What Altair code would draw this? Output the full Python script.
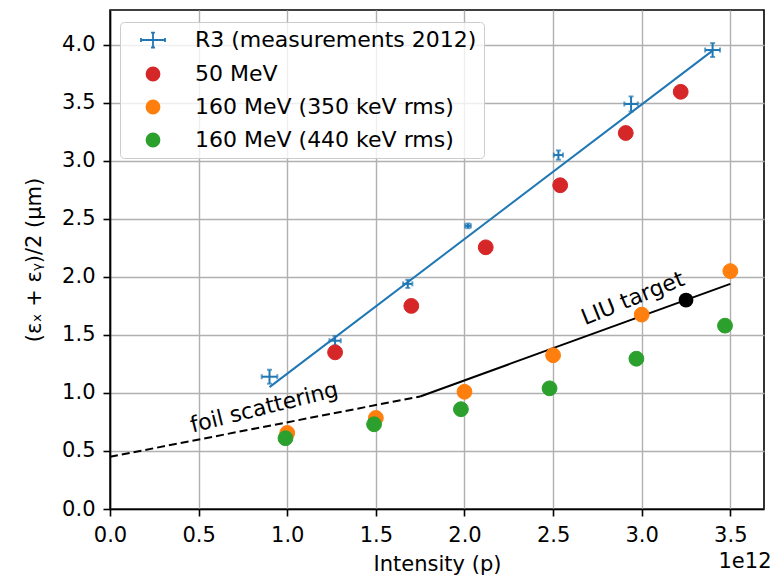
import altair as alt
import pandas as pd

SERIES = ["R3 (measurements 2012)", "50 MeV", "160 MeV (350 keV rms)", "160 MeV (440 keV rms)"]
COLORS = ["#1f77b4", "#d62728", "#ff7f0e", "#2ca02c"]
FILLS = ["transparent", "#d62728", "#ff7f0e", "#2ca02c"]
CROSS = "M-1.85,0H1.85M0,-1.15V1.15M-0.3,-1.15H0.3M-0.3,1.15H0.3M-1.85,-0.3V0.3M1.85,-0.3V0.3"
SHAPES = [CROSS, "circle", "circle", "circle"]

# R3 measurements (x in units of 1e12 protons)
r3_x = [0.90, 1.27, 1.68, 2.02, 2.53, 2.94, 3.40]
r3_y = [1.14, 1.45, 1.94, 2.44, 3.05, 3.49, 3.955]
r3_xerr = [0.044, 0.032, 0.026, 0.016, 0.026, 0.038, 0.042]
r3_yerr = [0.06, 0.04, 0.035, 0.02, 0.04, 0.065, 0.06]

fit_x = [0.90, 3.40]
fit_y = [1.05, 3.95]

mev50_x = [1.27, 1.70, 2.12, 2.54, 2.91, 3.22]
mev50_y = [1.35, 1.75, 2.255, 2.79, 3.24, 3.595]

mev160a_x = [1.00, 1.50, 2.00, 2.50, 3.00, 3.50]
mev160a_y = [0.655, 0.785, 1.01, 1.325, 1.675, 2.05]

mev160b_x = [0.99, 1.49, 1.98, 2.48, 2.97, 3.47]
mev160b_y = [0.61, 0.73, 0.86, 1.04, 1.295, 1.58]

foil_x = [0.0, 1.75]
foil_y = [0.45, 0.97]
liu_x = [1.75, 3.50]
liu_y = [0.97, 1.94]
liu_pt_x = [3.25]
liu_pt_y = [1.80]

x_ticks = [0.0, 0.5, 1.0, 1.5, 2.0, 2.5, 3.0, 3.5]
y_ticks = [0.0, 0.5, 1.0, 1.5, 2.0, 2.5, 3.0, 3.5, 4.0]

FONT = "DejaVu Sans"
XS = alt.Scale(domain=[0, 3.69], nice=False, zero=False)
YS = alt.Scale(domain=[0, 4.3], nice=False, zero=False)
XT = "Intensity (p)"
YT = "(εₓ + εᵧ)/2 (μm)"


def X(field="x"):
    return alt.X(f"{field}:Q", scale=XS, title=XT,
                 axis=alt.Axis(values=x_ticks, format=".1f", title=XT))


def Y(field="y"):
    return alt.Y(f"{field}:Q", scale=YS, title=YT,
                 axis=alt.Axis(values=y_ticks, format=".1f", title=YT))


r3 = pd.DataFrame({"x": r3_x, "y": r3_y, "xe": r3_xerr, "ye": r3_yerr})
r3["xlo"] = r3.x - r3.xe
r3["xhi"] = r3.x + r3.xe
r3["ylo"] = r3.y - r3.ye
r3["yhi"] = r3.y + r3.ye

hcaps = pd.DataFrame({"x": list(r3.x) * 2, "y": list(r3.ylo) + list(r3.yhi)})
vcaps = pd.DataFrame({"x": list(r3.xlo) + list(r3.xhi), "y": list(r3.y) * 2})

pts = pd.DataFrame({
    "x": mev50_x + mev160a_x + mev160b_x,
    "y": mev50_y + mev160a_y + mev160b_y,
    "series": [SERIES[1]] * len(mev50_x) + [SERIES[2]] * len(mev160a_x) + [SERIES[3]] * len(mev160b_x),
})

BLUE = COLORS[0]

foil = alt.Chart(pd.DataFrame({"x": foil_x, "y": foil_y})).mark_line(
    color="black", strokeWidth=2, strokeDash=[8, 4]).encode(x=X(), y=Y())
liu = alt.Chart(pd.DataFrame({"x": liu_x, "y": liu_y})).mark_line(
    color="black", strokeWidth=2).encode(x=X(), y=Y())
fit = alt.Chart(pd.DataFrame({"x": fit_x, "y": fit_y})).mark_line(
    color=BLUE, strokeWidth=2).encode(x=X(), y=Y())

xerr = alt.Chart(r3).mark_rule(color=BLUE, strokeWidth=2).encode(
    x=X("xlo"), x2="xhi:Q", y=Y())
yerr = alt.Chart(r3).mark_rule(color=BLUE, strokeWidth=2).encode(
    x=X(), y=Y("ylo"), y2="yhi:Q")
hcap = alt.Chart(hcaps).mark_tick(color=BLUE, orient="horizontal", size=5, thickness=2).encode(x=X(), y=Y())
vcap = alt.Chart(vcaps).mark_tick(color=BLUE, orient="vertical", size=5, thickness=2).encode(x=X(), y=Y())

leg = alt.Legend(title=None, orient="none", legendX=10, legendY=12)
points = alt.Chart(pts).mark_point(filled=True, size=220, opacity=1, strokeWidth=1).encode(
    x=X(), y=Y(),
    fill=alt.Fill("series:N", scale=alt.Scale(domain=SERIES, range=FILLS), legend=leg),
    stroke=alt.Stroke("series:N", scale=alt.Scale(domain=SERIES, range=COLORS), legend=leg),
    shape=alt.Shape("series:N", scale=alt.Scale(domain=SERIES, range=SHAPES), legend=leg),
)

liu_pt = alt.Chart(pd.DataFrame({"x": liu_pt_x, "y": liu_pt_y})).mark_point(
    filled=True, size=220, opacity=1, color="black").encode(x=X(), y=Y())

foil_txt = alt.Chart(pd.DataFrame({"x": [0.87], "y": [0.875], "t": ["foil scattering"]})).mark_text(
    font=FONT, fontSize=22, angle=346, color="black").encode(x=X(), y=Y(), text="t:N")
liu_txt = alt.Chart(pd.DataFrame({"x": [2.95], "y": [1.815], "t": ["LIU target"]})).mark_text(
    font=FONT, fontSize=22, angle=338, color="black").encode(x=X(), y=Y(), text="t:N")

offset_txt = alt.Chart(pd.DataFrame({"t": ["1e12"]})).mark_text(
    font=FONT, fontSize=21, color="black", align="center").encode(
    x=alt.value(635), y=alt.value(552), text="t:N")

chart = alt.layer(
    foil, liu, fit, xerr, yerr, hcap, vcap, points, liu_pt, foil_txt, liu_txt, offset_txt
).properties(
    width=654, height=499,
    autosize=alt.AutoSizeParams(type="none"),
    padding={"left": 102, "top": 2, "right": 12, "bottom": 66},
).configure_view(
    stroke="black", strokeWidth=1.6
).configure_axis(
    labelFont=FONT, titleFont=FONT, labelFontSize=21, titleFontSize=21,
    labelColor="black", titleColor="black", titleFontWeight="normal",
    tickColor="black", tickSize=7, tickWidth=1.6,
    domainColor="black", domainWidth=1.6, labelFlush=False,
    gridColor="#b0b0b0", gridWidth=1.4,
).configure_axisX(
    labelPadding=8, titlePadding=8,
).configure_axisY(
    labelPadding=8, titlePadding=17,
).configure_legend(
    labelFont=FONT, labelFontSize=22, labelColor="black", labelLimit=500,
    fillColor="rgba(255,255,255,0.8)", strokeColor="#cccccc", cornerRadius=4,
    padding=7, rowPadding=11, symbolSize=169, symbolStrokeWidth=1.8,
    symbolOffset=15, labelOffset=31,
)

chart.save("out.html", embed_options={"renderer": "svg", "actions": False})
